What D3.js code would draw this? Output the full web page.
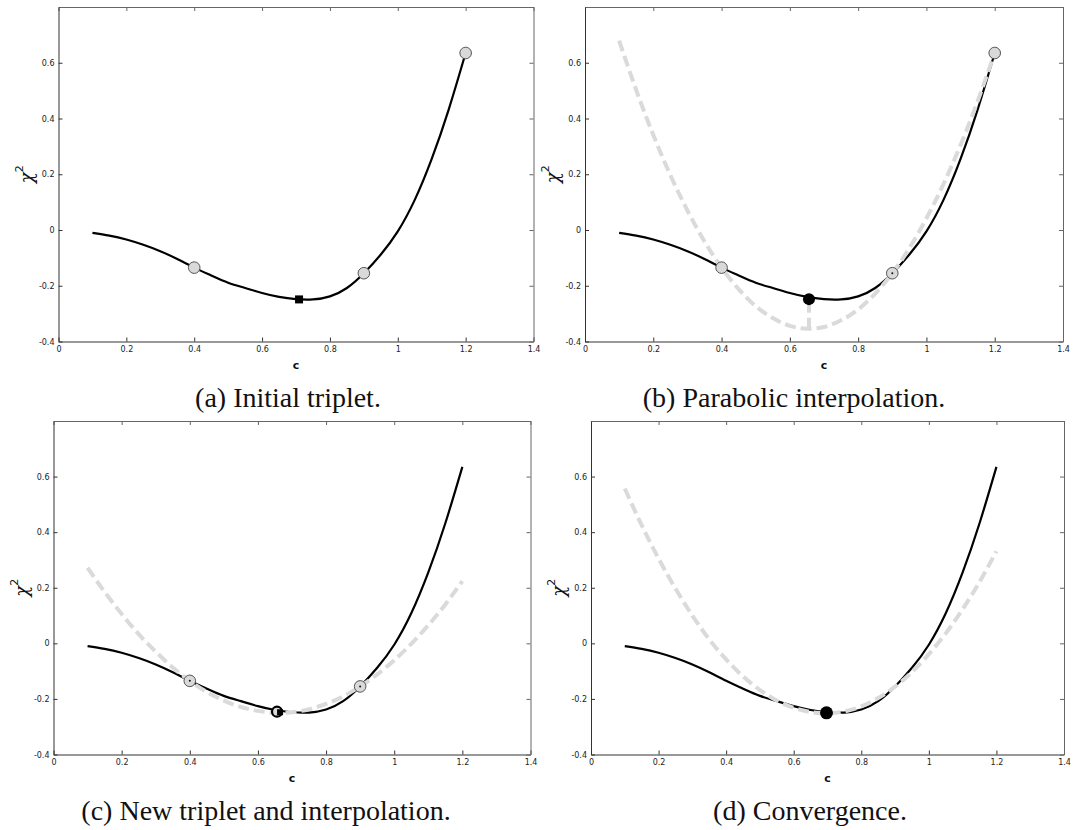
<!DOCTYPE html>
<html>
<head>
<meta charset="utf-8">
<script src="https://cdn.jsdelivr.net/npm/d3@7"></script>
<style>
  body { margin: 0; background: #fff; }
  svg { display: block; }
</style>
</head>
<body>
<svg id="fig" width="1075" height="830"></svg>
<script>
// Sample grid of the fit parameter c
const cGrid = [0.10, 0.15, 0.20, 0.25, 0.30, 0.35, 0.40, 0.45, 0.50, 0.55, 0.60, 0.65,
               0.70, 0.75, 0.80, 0.85, 0.90, 0.95, 1.00, 1.05, 1.10, 1.15, 1.20];

// Objective function chi^2(c)
const chiSquared = [-0.010, -0.020, -0.034, -0.053, -0.076, -0.104, -0.135, -0.163, -0.189, -0.208,
                    -0.226, -0.240, -0.248, -0.249, -0.238, -0.208, -0.155, -0.088, -0.005, 0.108,
                    0.255, 0.432, 0.635];

// Parabola through the initial triplet
const parabolaFirst = [0.679, 0.502, 0.341, 0.197, 0.070, -0.041, -0.135, -0.212, -0.273, -0.316,
                       -0.344, -0.354, -0.348, -0.324, -0.285, -0.228, -0.155, -0.065, 0.042, 0.165,
                       0.305, 0.462, 0.635];

// Parabola through the updated triplet
const parabolaSecond = [0.272, 0.185, 0.106, 0.033, -0.030, -0.087, -0.135, -0.175, -0.206, -0.229,
                        -0.243, -0.250, -0.248, -0.237, -0.218, -0.191, -0.155, -0.112, -0.061, -0.002,
                        0.065, 0.140, 0.224];

// Parabola at convergence
const parabolaFinal = [0.557, 0.425, 0.305, 0.197, 0.100, 0.014, -0.058, -0.119, -0.168, -0.206,
                       -0.232, -0.247, -0.252, -0.245, -0.227, -0.197, -0.156, -0.103, -0.039, 0.036,
                       0.123, 0.221, 0.331];

// Bracketing triplets and trial points
const tripletC = [0.40, 0.90, 1.20];
const tripletChi = [-0.135, -0.155, 0.635];
const initialGuess = [0.709, -0.249];
const vertexFirstC = 0.656;
const vertexFirstChi = [-0.354, -0.248];
const newTripletC = [0.40, 0.656, 0.90];
const newTripletChi = [-0.135, -0.246, -0.155];
const newTrial = [0.665, -0.248];
const converged = [0.697, -0.250];

// Axis ticks
const xTicks = [0, 0.2, 0.4, 0.6, 0.8, 1.0, 1.2, 1.4];
const yTicks = [-0.4, -0.2, 0, 0.2, 0.4, 0.6];

const captions = ["(a) Initial triplet.", "(b) Parabolic interpolation.",
                  "(c) New triplet and interpolation.", "(d) Convergence."];

const panels = [
  { left: 58.5, right: 533.5, top: 7,   bottom: 341.5, capX: 288, capY: 407 },
  { left: 585,  right: 1063,  top: 7,   bottom: 341.5, capX: 794, capY: 407 },
  { left: 53.5, right: 530.5, top: 421, bottom: 754.5, capX: 266, capY: 820 },
  { left: 591,  right: 1064,  top: 421, bottom: 754.5, capX: 810, capY: 820 }
];

const svg = d3.select("#fig");
const fmt = d => String(+d.toFixed(1));
const axisColor = "#333";
const frameColor = "#666";
const dashGray = "#dadada";

function drawFrame(g, x, y, p) {
  const styleAxis = color => sel => {
    sel.select(".domain").attr("stroke", color).attr("stroke-width", 1);
    sel.selectAll(".tick line").attr("stroke", color);
    sel.selectAll(".tick text").attr("fill", "#222")
      .attr("font-family", "DejaVu Sans, sans-serif").attr("font-size", 8);
  };
  g.append("g").attr("transform", `translate(0,${p.bottom})`)
    .call(d3.axisBottom(x).tickValues(xTicks).tickSizeInner(-4).tickSizeOuter(0).tickPadding(5).tickFormat(fmt))
    .call(styleAxis(axisColor));
  g.append("g").attr("transform", `translate(0,${p.top})`)
    .call(d3.axisTop(x).tickValues(xTicks).tickSizeInner(-4).tickSizeOuter(0).tickFormat(""))
    .call(styleAxis(frameColor));
  g.append("g").attr("transform", `translate(${p.left},0)`)
    .call(d3.axisLeft(y).tickValues(yTicks).tickSizeInner(-4).tickSizeOuter(0).tickPadding(4).tickFormat(fmt))
    .call(styleAxis(axisColor));
  g.append("g").attr("transform", `translate(${p.right},0)`)
    .call(d3.axisRight(y).tickValues(yTicks).tickSizeInner(-4).tickSizeOuter(0).tickFormat(""))
    .call(styleAxis(frameColor));
  g.selectAll("g").attr("font-family", null).attr("font-size", null);

  // axis titles
  g.append("text")
    .attr("x", (p.left + p.right) / 2).attr("y", p.bottom + 27)
    .attr("text-anchor", "middle")
    .attr("font-family", "DejaVu Sans, sans-serif").attr("font-weight", "bold")
    .attr("font-size", 11).attr("fill", "#111")
    .text("c");
  const yl = g.append("text")
    .attr("transform", `translate(${p.left - 26},${(p.top + p.bottom) / 2}) rotate(-90)`)
    .attr("text-anchor", "middle").attr("fill", "#111");
  yl.append("tspan").attr("font-family", "DejaVu Serif, serif").attr("font-style", "italic")
    .attr("font-size", 18).text("χ");
  yl.append("tspan").attr("font-family", "DejaVu Sans, sans-serif").attr("font-size", 11)
    .attr("dy", -10).text("2");
}

function lineOf(x, y, values) {
  return d3.line().x((d, i) => x(cGrid[i])).y(d => y(d)).curve(d3.curveNatural)(values);
}

function drawTrue(g, x, y) {
  g.append("path").attr("d", lineOf(x, y, chiSquared))
    .attr("fill", "none").attr("stroke", "#000").attr("stroke-width", 2.2);
}

function drawParabola(g, x, y, values) {
  g.append("path").attr("d", lineOf(x, y, values))
    .attr("fill", "none").attr("stroke", dashGray).attr("stroke-width", 4)
    .attr("stroke-dasharray", "11,5");
}

function drawCircles(g, x, y, cs, vs, dots) {
  cs.forEach((c, i) => {
    g.append("circle").attr("cx", x(c)).attr("cy", y(vs[i])).attr("r", 5.8)
      .attr("fill", "#d9d9d9").attr("stroke", "#555").attr("stroke-width", 1);
    if (dots[i]) {
      g.append("circle").attr("cx", x(c)).attr("cy", y(vs[i])).attr("r", 1)
        .attr("fill", "#111");
    }
  });
}

panels.forEach((p, k) => {
  const g = svg.append("g");
  const x = d3.scaleLinear().domain([0, 1.4]).range([p.left, p.right]);
  const y = d3.scaleLinear().domain([-0.4, 0.8]).range([p.bottom, p.top]);

  drawFrame(g, x, y, p);
  drawTrue(g, x, y);

  if (k === 0) {
    drawCircles(g, x, y, tripletC, tripletChi, [false, false, false]);
    g.append("rect").attr("x", x(initialGuess[0]) - 4).attr("y", y(initialGuess[1]) - 4)
      .attr("width", 8).attr("height", 8).attr("fill", "#000");
  } else if (k === 1) {
    drawParabola(g, x, y, parabolaFirst);
    g.append("line")
      .attr("x1", x(vertexFirstC)).attr("x2", x(vertexFirstC))
      .attr("y1", y(vertexFirstChi[0])).attr("y2", y(vertexFirstChi[1]))
      .attr("stroke", dashGray).attr("stroke-width", 4).attr("stroke-dasharray", "11,5");
    drawCircles(g, x, y, tripletC, tripletChi, [false, true, false]);
    g.append("circle").attr("cx", x(vertexFirstC)).attr("cy", y(vertexFirstChi[1]))
      .attr("r", 6).attr("fill", "#000");
  } else if (k === 2) {
    drawParabola(g, x, y, parabolaSecond);
    drawCircles(g, x, y, [newTripletC[0], newTripletC[2]], [newTripletChi[0], newTripletChi[2]], [true, true]);
    g.append("circle").attr("cx", x(newTripletC[1])).attr("cy", y(newTripletChi[1])).attr("r", 5)
      .attr("fill", "#d9d9d9").attr("stroke", "#000").attr("stroke-width", 2.2);
    g.append("rect").attr("x", x(newTrial[0]) - 3).attr("y", y(newTrial[1]) - 3)
      .attr("width", 6).attr("height", 6).attr("fill", "#000");
  } else {
    drawParabola(g, x, y, parabolaFinal);
    g.append("circle").attr("cx", x(converged[0])).attr("cy", y(converged[1]))
      .attr("r", 6.5).attr("fill", "#000");
  }

  svg.append("text")
    .attr("x", p.capX).attr("y", p.capY)
    .attr("text-anchor", "middle")
    .attr("font-family", "Liberation Serif, serif").attr("font-size", 28)
    .attr("fill", "#111")
    .text(captions[k]);
});
</script>
</body>
</html>
